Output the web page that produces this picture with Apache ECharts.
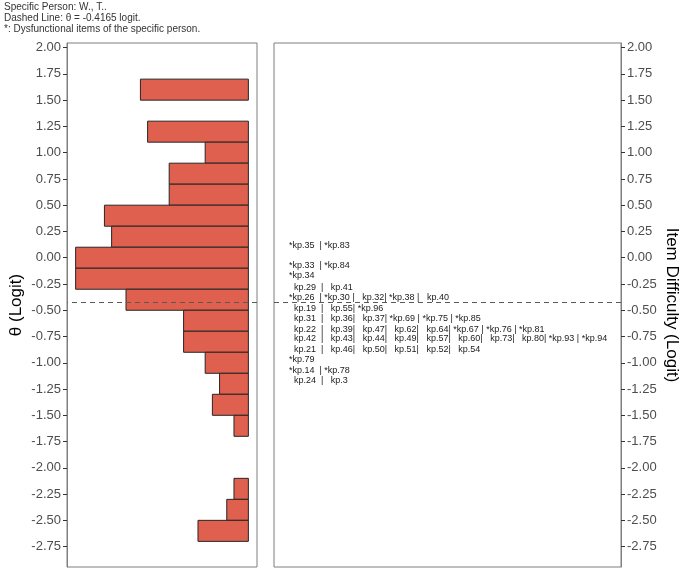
<!DOCTYPE html>
<html>
<head>
<meta charset="utf-8">
<title>Person-item map</title>
<script src="https://cdn.jsdelivr.net/npm/echarts@6/dist/echarts.min.js"></script>
<style>
  html, body { margin: 0; padding: 0; background: #fff; }
  #chart { width: 685px; height: 574px; }
</style>
</head>
<body>
<div id="chart"></div>
<script>
'use strict'

/* Person histogram (left panel) */
var binCenters = [1.6, 1.2, 1.0, 0.8, 0.6, 0.4, 0.2, 0.0, -0.2, -0.4, -0.6, -0.8, -1.0, -1.2, -1.4, -1.6, -2.2, -2.4, -2.6];
var binCounts = [15, 14, 6, 11, 11, 20, 19, 24, 24, 17, 9, 9, 6, 4, 5, 2, 2, 3, 7];
var binWidth = 0.2;

/* Item rows (right panel) */
var rowDifficulty = [0.12, -0.07, -0.17, -0.28, -0.38, -0.48, -0.58, -0.68, -0.77, -0.87, -0.97, -1.07, -1.17];
var rowItems = [
    ['*kp.35', '*kp.83'],
    ['*kp.33', '*kp.84'],
    ['*kp.34'],
    ['kp.29', 'kp.41'],
    ['*kp.26', '*kp.30', 'kp.32', '*kp.38', 'kp.40'],
    ['kp.19', 'kp.55', '*kp.96'],
    ['kp.31', 'kp.36', 'kp.37', '*kp.69', '*kp.75', '*kp.85'],
    ['kp.22', 'kp.39', 'kp.47', 'kp.62', 'kp.64', '*kp.67', '*kp.76', '*kp.81'],
    ['kp.42', 'kp.43', 'kp.44', 'kp.49', 'kp.57', 'kp.60', 'kp.73', 'kp.80', '*kp.93', '*kp.94'],
    ['kp.21', 'kp.46', 'kp.50', 'kp.51', 'kp.52', 'kp.54'],
    ['*kp.79'],
    ['*kp.14', '*kp.78'],
    ['kp.24', 'kp.3']
];

var theta = -0.4165;
var yTicks = [2.00, 1.75, 1.50, 1.25, 1.00, 0.75, 0.50, 0.25, 0.00, -0.25, -0.50, -0.75,
    -1.00, -1.25, -1.50, -1.75, -2.00, -2.25, -2.50, -2.75];
var headerLines = [
    'Specific Person: W., T..',
    'Dashed Line: \u03b8 = -0.4165 logit.',
    '*: Dysfunctional items of the specific person.'
];

var yMin = -2.944, yMax = 2.044;
var barColor = '#e0604f';
var borderColor = '#7f7f7f';
var font = 'Liberation Sans, Arial, sans-serif';

/* pad labels the way the original text table does */
function rowText(items) {
    return items.map(function (s, i) {
        var star = s.charAt(0) === '*';
        if (i === 0) return star ? s + '  ' : '  ' + s + '  ';
        return star ? ' ' + s + ' ' : '   ' + s;
    }).join('|');
}

var dashLine = {
    silent: true,
    symbol: 'none',
    label: { show: false },
    lineStyle: { type: [5, 4], color: '#595959', width: 1 },
    data: [{ yAxis: theta }]
};

function yAxisCfg(idx, pos, name, rotate, gap) {
    return {
        type: 'value',
        gridIndex: idx,
        position: pos,
        min: yMin,
        max: yMax,
        name: name,
        nameLocation: 'middle',
        nameGap: gap,
        nameRotate: rotate,
        nameMoveOverlap: false,
        nameTextStyle: { fontSize: 17, color: '#000', fontFamily: font },
        axisLine: { show: true, onZero: false, lineStyle: { color: borderColor } },
        axisTick: { show: true, length: 4, customValues: yTicks, lineStyle: { color: '#333' } },
        axisLabel: {
            customValues: yTicks,
            fontSize: 13,
            color: '#4d4d4d',
            fontFamily: font,
            margin: 6,
            formatter: function (v) { return v.toFixed(2); }
        },
        splitLine: { show: false }
    };
}

var chart = echarts.init(document.getElementById('chart'));

chart.setOption({
    animation: false,
    title: {
        text: headerLines.join('\n'),
        left: 4,
        top: 2,
        padding: 0,
        textStyle: { fontSize: 10, fontWeight: 'normal', color: '#333', fontFamily: font, lineHeight: 11 }
    },
    grid: [
        { left: 67, top: 43, width: 190, height: 524, show: true, borderColor: borderColor, borderWidth: 1, outerBoundsMode: 'none' },
        { left: 274, top: 43, width: 347, height: 524, show: true, borderColor: borderColor, borderWidth: 1, outerBoundsMode: 'none' }
    ],
    xAxis: [
        { type: 'value', gridIndex: 0, min: -1.2, max: 25.2, inverse: true, show: false },
        { type: 'value', gridIndex: 1, min: 0, max: 1, show: false }
    ],
    yAxis: [
        yAxisCfg(0, 'left', '\u03b8 (Logit)', 90, 42),
        yAxisCfg(1, 'right', 'Item Difficulty (Logit)', -90, 42)
    ],
    series: [
        {
            type: 'custom',
            xAxisIndex: 0,
            yAxisIndex: 0,
            encode: { x: 1, y: 0 },
            data: binCenters.map(function (c, i) { return [c, binCounts[i]]; }),
            renderItem: function (params, api) {
                var c = api.value(0);
                var p1 = api.coord([0, c + binWidth / 2]);
                var p2 = api.coord([api.value(1), c - binWidth / 2]);
                return {
                    type: 'rect',
                    shape: {
                        x: Math.min(p1[0], p2[0]),
                        y: p1[1],
                        width: Math.abs(p2[0] - p1[0]),
                        height: p2[1] - p1[1]
                    },
                    style: { fill: barColor, stroke: '#262626', lineWidth: 1 }
                };
            },
            markLine: dashLine
        },
        {
            type: 'custom',
            xAxisIndex: 1,
            yAxisIndex: 1,
            encode: { x: 0, y: 1 },
            data: rowDifficulty.map(function (d, i) { return [0, d]; }),
            renderItem: function (params, api) {
                var p = api.coord([0, api.value(1)]);
                return {
                    type: 'text',
                    x: p[0] + 15,
                    y: p[1],
                    style: {
                        text: rowText(rowItems[params.dataIndex]),
                        fontSize: 9,
                        fontFamily: font,
                        fill: '#1a1a1a',
                        align: 'left',
                        verticalAlign: 'middle'
                    }
                };
            },
            markLine: dashLine
        }
    ]
});
</script>
</body>
</html>
